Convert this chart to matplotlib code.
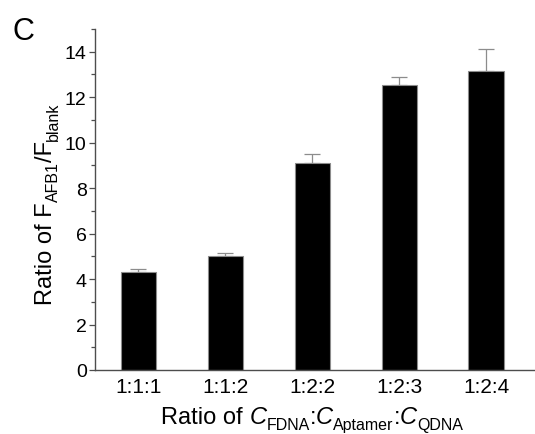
import numpy as np
import matplotlib
matplotlib.use('Agg')
import matplotlib.pyplot as plt
from matplotlib.ticker import MultipleLocator
from matplotlib.transforms import IdentityTransform

# data
ratios = ['1:1:1', '1:1:2', '1:2:2', '1:2:3', '1:2:4']
signal = [4.32, 5.03, 9.10, 12.55, 13.16]
err_up = [0.13, 0.10, 0.40, 0.35, 0.96]

plt.rcParams['font.family'] = 'Liberation Sans'

W, H = 535, 435
fig = plt.figure(figsize=(W / 100, H / 100), dpi=100)
ax = fig.add_axes([95 / W, 64 / H, 1 - 95 / W, (371 - 30) / H])

x = np.arange(len(ratios))
ax.bar(x, signal, width=0.41, color='black', edgecolor='#8c8c8c', linewidth=0.8, zorder=2)
ax.errorbar(x, signal, yerr=[np.zeros(len(err_up)), err_up], fmt='none',
            ecolor='#8c8c8c', elinewidth=0.9, capsize=5.5, capthick=0.9, zorder=1)

ax.set_xlim(-0.5, 4.56)
ax.set_ylim(0, 15)
ax.set_xticks(x)
ax.set_xticklabels(ratios)
ax.yaxis.set_major_locator(MultipleLocator(2))
ax.yaxis.set_minor_locator(MultipleLocator(1))
ax.set_yticks([0, 2, 4, 6, 8, 10, 12, 14])

for s in ['top', 'right']:
    ax.spines[s].set_visible(False)
for s in ['left', 'bottom']:
    ax.spines[s].set_color('#4d4d4d')
    ax.spines[s].set_linewidth(1.0)

ax.tick_params(axis='y', which='major', direction='out', length=4, width=0.9, color='#4d4d4d', labelsize=14, pad=2)
ax.tick_params(axis='y', which='minor', direction='out', length=3, width=0.9, color='#4d4d4d')
ax.tick_params(axis='x', which='both', length=0, labelsize=15, pad=5)

renderer = fig.canvas.get_renderer()


def write_pieces(x0, y0, pieces, vertical=False):
    # pieces: (text, fontsize, style, baseline shift in px)
    pos = 0.0
    for txt, size, style, shift in pieces:
        if vertical:
            px, py, rot = x0 + shift, y0 + pos, 90
        else:
            px, py, rot = x0 + pos, y0 - shift, 0
        t = fig.text(px, py, txt, transform=IdentityTransform(), fontsize=size,
                     fontstyle=style, rotation=rot, rotation_mode='anchor',
                     ha='left', va='baseline')
        bb = t.get_window_extent(renderer)
        pos += bb.height if vertical else bb.width


main, sub, drop = 17, 11.5, 6
ylab = [('Ratio of F', main, 'normal', 0), ('AFB1', sub, 'normal', drop),
        ('/F', main, 'normal', 0), ('blank', sub, 'normal', drop)]
xlab = [('Ratio of ', main, 'normal', 0), ('C', main, 'italic', 0), ('FDNA', sub, 'normal', drop),
        (':', main, 'normal', 0), ('C', main, 'italic', 0), ('Aptamer', sub, 'normal', drop),
        (':', main, 'normal', 0), ('C', main, 'italic', 0), ('QDNA', sub, 'normal', drop)]

write_pieces(52, H - 305, ylab, vertical=True)
write_pieces(161, H - 424, xlab)

fig.text(13 / W, 1 - 17 / H, 'C', fontsize=22, va='top', ha='left')

fig.savefig('out.png', dpi=100)
